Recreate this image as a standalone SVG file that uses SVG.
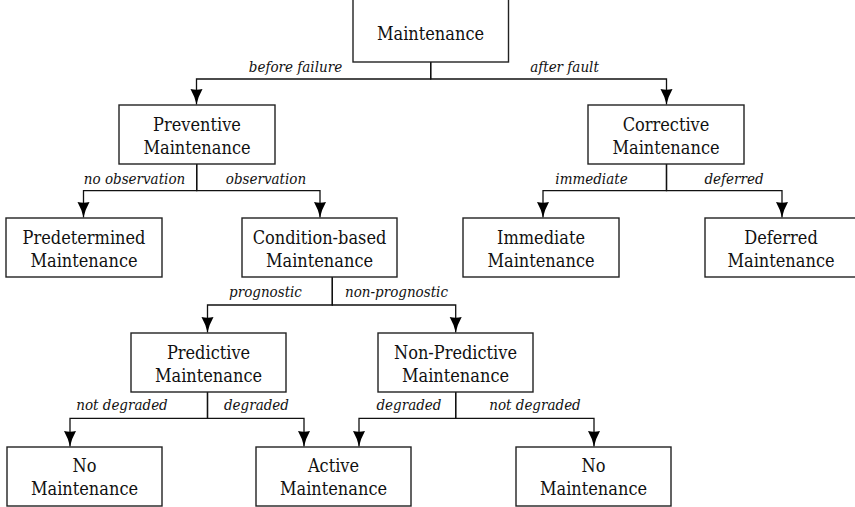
<svg xmlns="http://www.w3.org/2000/svg" width="855" height="507" viewBox="0 0 855 507">
  <style>
    .box { fill: #fff; stroke: #222; stroke-width: 1.4; }
    .node { font-family: "DejaVu Serif Condensed", "DejaVu Serif", serif; font-size: 18px; fill: #111; text-anchor: middle; }
    .edge { fill: none; stroke: #111; stroke-width: 1.3; marker-end: url(#arrow); }
    .lbl { font-family: "DejaVu Serif Condensed", "DejaVu Serif", serif; font-style: italic; font-size: 15px; fill: #111; text-anchor: middle; }
  </style>
  <defs>
    <!-- solid arrow tip, slightly curved flanks -->
    <marker id="arrow" markerUnits="userSpaceOnUse" markerWidth="16" markerHeight="13" viewBox="0 0 16 13" refX="15.5" refY="6.5" orient="auto">
      <path d="M0,0.5 Q8,5 15.5,6.5 Q8,8 0,12.5 Q1.5,6.5 0,0.5 z" fill="#000"/>
    </marker>
  </defs>
  <rect width="855" height="507" fill="#fff"/>

  <!-- connectors -->
  <g id="connectors">
    <path class="edge" d="M430.7,62 V79 H196.5 V104.5"/>
    <path class="edge" d="M430.7,62 V79 H666.5 V104.5"/>
    <path class="edge" d="M196.7,164 V190.7 H83.5 V217.5"/>
    <path class="edge" d="M196.7,164 V190.7 H320 V217.5"/>
    <path class="edge" d="M666.5,164 V190.7 H543 V217.5"/>
    <path class="edge" d="M666.5,164 V190.7 H782 V217.5"/>
    <path class="edge" d="M332.3,277 V305 H207.5 V332.5"/>
    <path class="edge" d="M332.3,277 V305 H455.7 V332.5"/>
    <path class="edge" d="M207.5,392 V418.3 H70 V446.5"/>
    <path class="edge" d="M207.5,392 V418.3 H304 V446.5"/>
    <path class="edge" d="M455.7,392 V418.3 H359 V446.5"/>
    <path class="edge" d="M455.7,392 V418.3 H594 V446.5"/>
  </g>

  <!-- edge labels -->
  <g id="labels">
    <text class="lbl" x="295.5" y="72">before failure</text>
    <text class="lbl" x="564.5" y="72">after fault</text>
    <text class="lbl" x="134.5" y="184">no observation</text>
    <text class="lbl" x="266" y="184">observation</text>
    <text class="lbl" x="591.5" y="184">immediate</text>
    <text class="lbl" x="734" y="184">deferred</text>
    <text class="lbl" x="265.5" y="297">prognostic</text>
    <text class="lbl" x="396.5" y="297">non-prognostic</text>
    <text class="lbl" x="122" y="410">not degraded</text>
    <text class="lbl" x="256.5" y="410">degraded</text>
    <text class="lbl" x="409" y="410">degraded</text>
    <text class="lbl" x="535" y="410">not degraded</text>
  </g>

  <g id="maintenance">
    <rect class="box" x="353" y="-2" width="155.5" height="64"/>
    <text class="node" x="430.5" y="40">Maintenance</text>
  </g>
  <g id="preventive">
    <rect class="box" x="119" y="105" width="156" height="59"/>
    <text class="node" x="197" y="130.7">Preventive</text>
    <text class="node" x="197" y="154">Maintenance</text>
  </g>
  <g id="corrective">
    <rect class="box" x="588" y="105" width="156" height="59"/>
    <text class="node" x="666" y="130.7">Corrective</text>
    <text class="node" x="666" y="154">Maintenance</text>
  </g>
  <g id="predetermined">
    <rect class="box" x="6" y="218" width="156" height="59"/>
    <text class="node" x="84" y="244">Predetermined</text>
    <text class="node" x="84" y="267.3">Maintenance</text>
  </g>
  <g id="condition-based">
    <rect class="box" x="242" y="218" width="155" height="59"/>
    <text class="node" x="319.5" y="244">Condition-based</text>
    <text class="node" x="319.5" y="267.3">Maintenance</text>
  </g>
  <g id="immediate">
    <rect class="box" x="463" y="218" width="156" height="59"/>
    <text class="node" x="541" y="244">Immediate</text>
    <text class="node" x="541" y="267.3">Maintenance</text>
  </g>
  <g id="deferred">
    <rect class="box" x="705" y="218" width="156" height="59"/>
    <text class="node" x="781" y="244">Deferred</text>
    <text class="node" x="781" y="267.3">Maintenance</text>
  </g>
  <g id="predictive">
    <rect class="box" x="131" y="333" width="155" height="59"/>
    <text class="node" x="208.5" y="358.7">Predictive</text>
    <text class="node" x="208.5" y="382">Maintenance</text>
  </g>
  <g id="non-predictive">
    <rect class="box" x="378" y="333" width="155" height="59"/>
    <text class="node" x="455.5" y="358.7">Non-Predictive</text>
    <text class="node" x="455.5" y="382">Maintenance</text>
  </g>
  <g id="no-maintenance-left">
    <rect class="box" x="7" y="447" width="155" height="59"/>
    <text class="node" x="84.5" y="471.7">No</text>
    <text class="node" x="84.5" y="495">Maintenance</text>
  </g>
  <g id="active">
    <rect class="box" x="256" y="447" width="155" height="59"/>
    <text class="node" x="333.5" y="471.7">Active</text>
    <text class="node" x="333.5" y="495">Maintenance</text>
  </g>
  <g id="no-maintenance-right">
    <rect class="box" x="516" y="447" width="155" height="59"/>
    <text class="node" x="593.5" y="471.7">No</text>
    <text class="node" x="593.5" y="495">Maintenance</text>
  </g>
</svg>
